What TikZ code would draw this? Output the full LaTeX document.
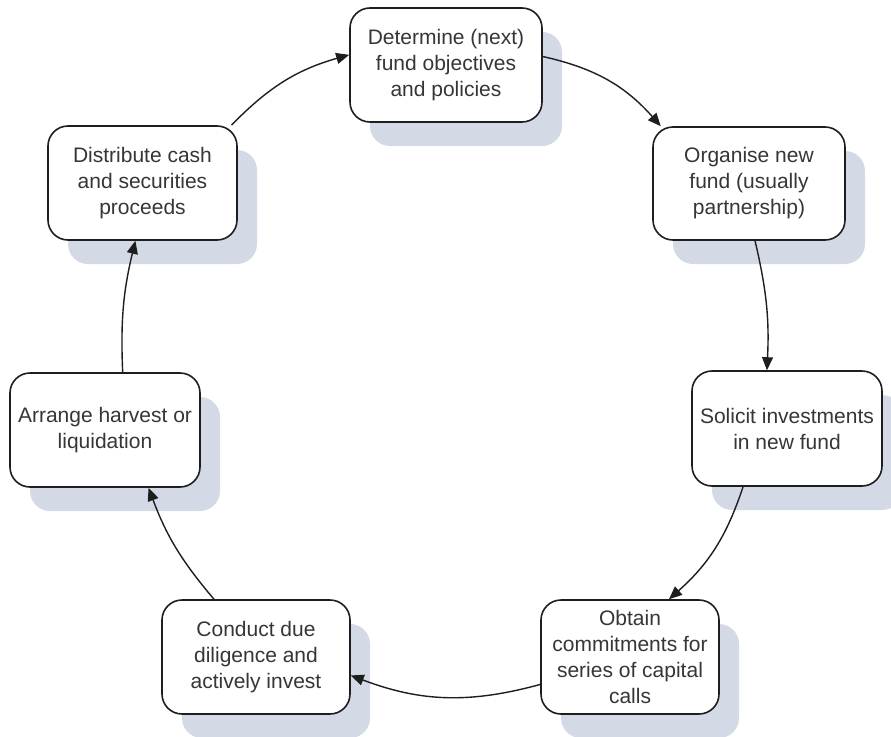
\documentclass[tikz,border=0pt]{standalone}
\usepackage{fontspec}
\setmainfont{Liberation Sans}
\usetikzlibrary{arrows.meta,shadows}
\definecolor{shadowc}{HTML}{D3DAE5}
\definecolor{txtc}{HTML}{363636}
\definecolor{linec}{HTML}{1E1E1E}
\begin{document}
\begin{tikzpicture}[x=1pt,y=1pt,
  stepbox/.style={draw=linec, line width=1.6pt, fill=white, rounded corners=20pt,
    align=center, text=txtc, inner sep=0pt,
    font=\fontsize{21}{26}\selectfont,
    general shadow={fill=shadowc, shadow xshift=20pt, shadow yshift=-24pt}},
  conn/.style={draw=linec, line width=1.4pt, -{Triangle[length=13pt,width=11pt]}}]
\useasboundingbox[fill=white] (0,0) rectangle (891,-736);
\node[stepbox, minimum width=192pt, minimum height=114pt] (b1) at (446,-65) {Determine (next)\\fund objectives\\and policies};
\node[stepbox, minimum width=192pt, minimum height=113pt] (b2) at (749,-183.5) {Organise new\\fund (usually\\partnership)};
\node[stepbox, minimum width=190pt, minimum height=115pt] (b3) at (787,-428.5) {Solicit investments\\in new fund};
\node[stepbox, minimum width=178pt, minimum height=114pt] (b4) at (630,-657) {Obtain\\commitments for\\series of capital\\calls};
\node[stepbox, minimum width=188pt, minimum height=114pt] (b5) at (256,-657) {Conduct due\\diligence and\\actively invest};
\node[stepbox, minimum width=190pt, minimum height=114pt] (b6) at (105,-430) {Arrange harvest or\\liquidation};
\node[stepbox, minimum width=189pt, minimum height=114pt] (b7) at (142.5,-183) {Distribute cash\\and securities\\proceeds};
\draw[conn] (b1.5) to[bend left=18] (b2.147);
\draw[conn] (b2.-84) to[bend left=8] (b3.109);
\draw[conn] (b3.233) to[bend left=15] (b4.56);
\draw[conn] (b4.197.5) to[bend left=18] (b5.-11.4);
\draw[conn] (b5.126) to[bend left=10] (b6.-53);
\draw[conn] (b6.73) to[bend left=8] (b7.263.5);
\draw[conn] (b7.33.7) to[bend left=15] (b1.174);
\end{tikzpicture}
\end{document}
